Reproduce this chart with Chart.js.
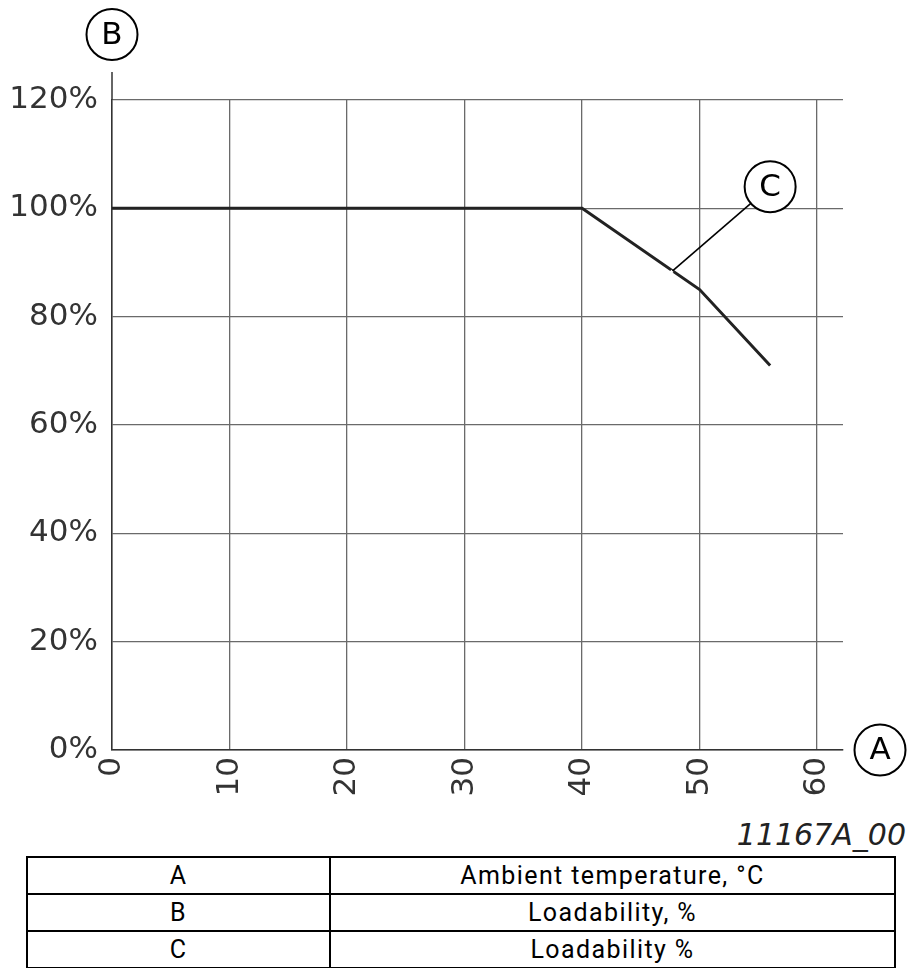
<!DOCTYPE html>
<html>
<head>
<meta charset="utf-8">
<script src="https://cdn.jsdelivr.net/npm/chart.js@4.4.1/dist/chart.umd.min.js"></script>
<style>
  body { margin: 0; background: #fff; width: 909px; height: 968px; position: relative; overflow: hidden; }
  #chart { position: absolute; left: 0; top: 0; }
  #code { position: absolute; right: 3px; top: 817px; font: italic 30px "DejaVu Sans"; line-height: 36px; color: #222; }
  #legend { position: absolute; left: 26px; top: 856px; width: 870px; border-collapse: collapse; font: 25px Roboto; letter-spacing: 1.4px; color: #000; }
  #legend td { border: 2px solid #000; height: 35px; padding: 0; text-align: center; }
  #legend td:first-child { width: 301px; }
</style>
</head>
<body>
<canvas id="chart" width="909" height="810"></canvas>
<div id="code">11167A_00</div>
<table id="legend"></table>
<script>
// curve: ambient temperature (°C) vs loadability (%)
const temps = [0, 40, 50, 56];
const loadability = [100, 100, 85, 71];

const xTickValues = [0, 10, 20, 30, 40, 50, 60];
const yTickValues = [0, 20, 40, 60, 80, 100, 120];

const legendKeys = ["A", "B", "C"];
const legendTexts = ["Ambient temperature, °C", "Loadability, %", "Loadability %"];

// legend table under the chart
const table = document.getElementById("legend");
legendKeys.forEach((k, i) => {
  const tr = document.createElement("tr");
  tr.innerHTML = `<td>${k}</td><td>${legendTexts[i]}</td>`;
  table.appendChild(tr);
});

// y value on the curve for a given temperature
function curveAt(t) {
  for (let i = 1; i < temps.length; i++) {
    if (t <= temps[i]) {
      const f = (t - temps[i - 1]) / (temps[i] - temps[i - 1]);
      return loadability[i - 1] + f * (loadability[i] - loadability[i - 1]);
    }
  }
  return loadability[loadability.length - 1];
}

function bubble(ctx, cx, cy, letter) {
  ctx.beginPath();
  ctx.arc(cx, cy, 25.5, 0, Math.PI * 2);
  ctx.fillStyle = "#fff";
  ctx.fill();
  ctx.lineWidth = 2;
  ctx.strokeStyle = "#000";
  ctx.stroke();
  ctx.fillStyle = "#000";
  ctx.font = "31px 'DejaVu Sans'";
  ctx.textAlign = "center";
  ctx.textBaseline = "middle";
  ctx.fillText(letter, cx, cy + 1);
}

const callouts = {
  id: "callouts",
  afterDraw(chart) {
    const { ctx, chartArea, scales } = chart;
    ctx.save();
    // y axis runs a bit above the 120% line
    ctx.strokeStyle = "#333";
    ctx.lineWidth = 1.5;
    ctx.beginPath();
    ctx.moveTo(chartArea.left, chartArea.top);
    ctx.lineTo(chartArea.left, 72);
    ctx.stroke();

    bubble(ctx, chartArea.left, 34.5, "B");
    bubble(ctx, 880, chartArea.bottom, "A");

    // C leader to the curve
    const t = 47.7;
    const px = scales.x.getPixelForValue(t);
    const py = scales.y.getPixelForValue(curveAt(t));
    const cx = scales.x.getPixelForValue(56);
    const cy = scales.y.getPixelForValue(104);
    const ang = Math.atan2(py - cy, px - cx);
    ctx.strokeStyle = "#fff";
    ctx.lineWidth = 3;
    ctx.beginPath();
    ctx.moveTo(px, py);
    ctx.lineTo(px + Math.cos(ang) * 5, py + Math.sin(ang) * 5);
    ctx.stroke();
    ctx.strokeStyle = "#000";
    ctx.lineWidth = 1.6;
    ctx.beginPath();
    ctx.moveTo(cx + Math.cos(ang) * 25.5, cy + Math.sin(ang) * 25.5);
    ctx.lineTo(px, py);
    ctx.stroke();
    bubble(ctx, cx, cy, "C");
    ctx.restore();
  }
};

new Chart(document.getElementById("chart"), {
  type: "line",
  data: {
    datasets: [{
      data: temps.map((t, i) => ({ x: t, y: loadability[i] })),
      borderColor: "#222",
      borderWidth: 3,
      pointRadius: 0,
      tension: 0,
      fill: false
    }]
  },
  options: {
    responsive: false,
    animation: false,
    layout: { padding: { top: 100, right: 66, left: 0, bottom: 0 } },
    plugins: { legend: { display: false }, tooltip: { enabled: false } },
    scales: {
      x: {
        type: "linear",
        min: 0,
        max: 62.2,
        afterBuildTicks: s => { s.ticks = xTickValues.map(v => ({ value: v })); },
        afterFit: s => { s.height = 60; },
        grid: { color: "#6a6a6a", lineWidth: 1.3, drawTicks: false },
        border: { color: "#333", width: 1.5 },
        ticks: {
          autoSkip: false,
          maxRotation: 90,
          minRotation: 90,
          padding: 7,
          color: "#333",
          font: { family: "DejaVu Sans", size: 31 }
        }
      },
      y: {
        min: 0,
        max: 120,
        afterBuildTicks: s => { s.ticks = yTickValues.map(v => ({ value: v })); },
        afterFit: s => { s.width = 112; },
        grid: { color: "#6a6a6a", lineWidth: 1.3, drawTicks: false },
        border: { color: "#333", width: 1.5 },
        ticks: {
          padding: 14,
          color: "#333",
          font: { family: "DejaVu Sans", size: 31 },
          callback: v => v + "%"
        }
      }
    }
  },
  plugins: [callouts]
});
</script>
</body>
</html>
